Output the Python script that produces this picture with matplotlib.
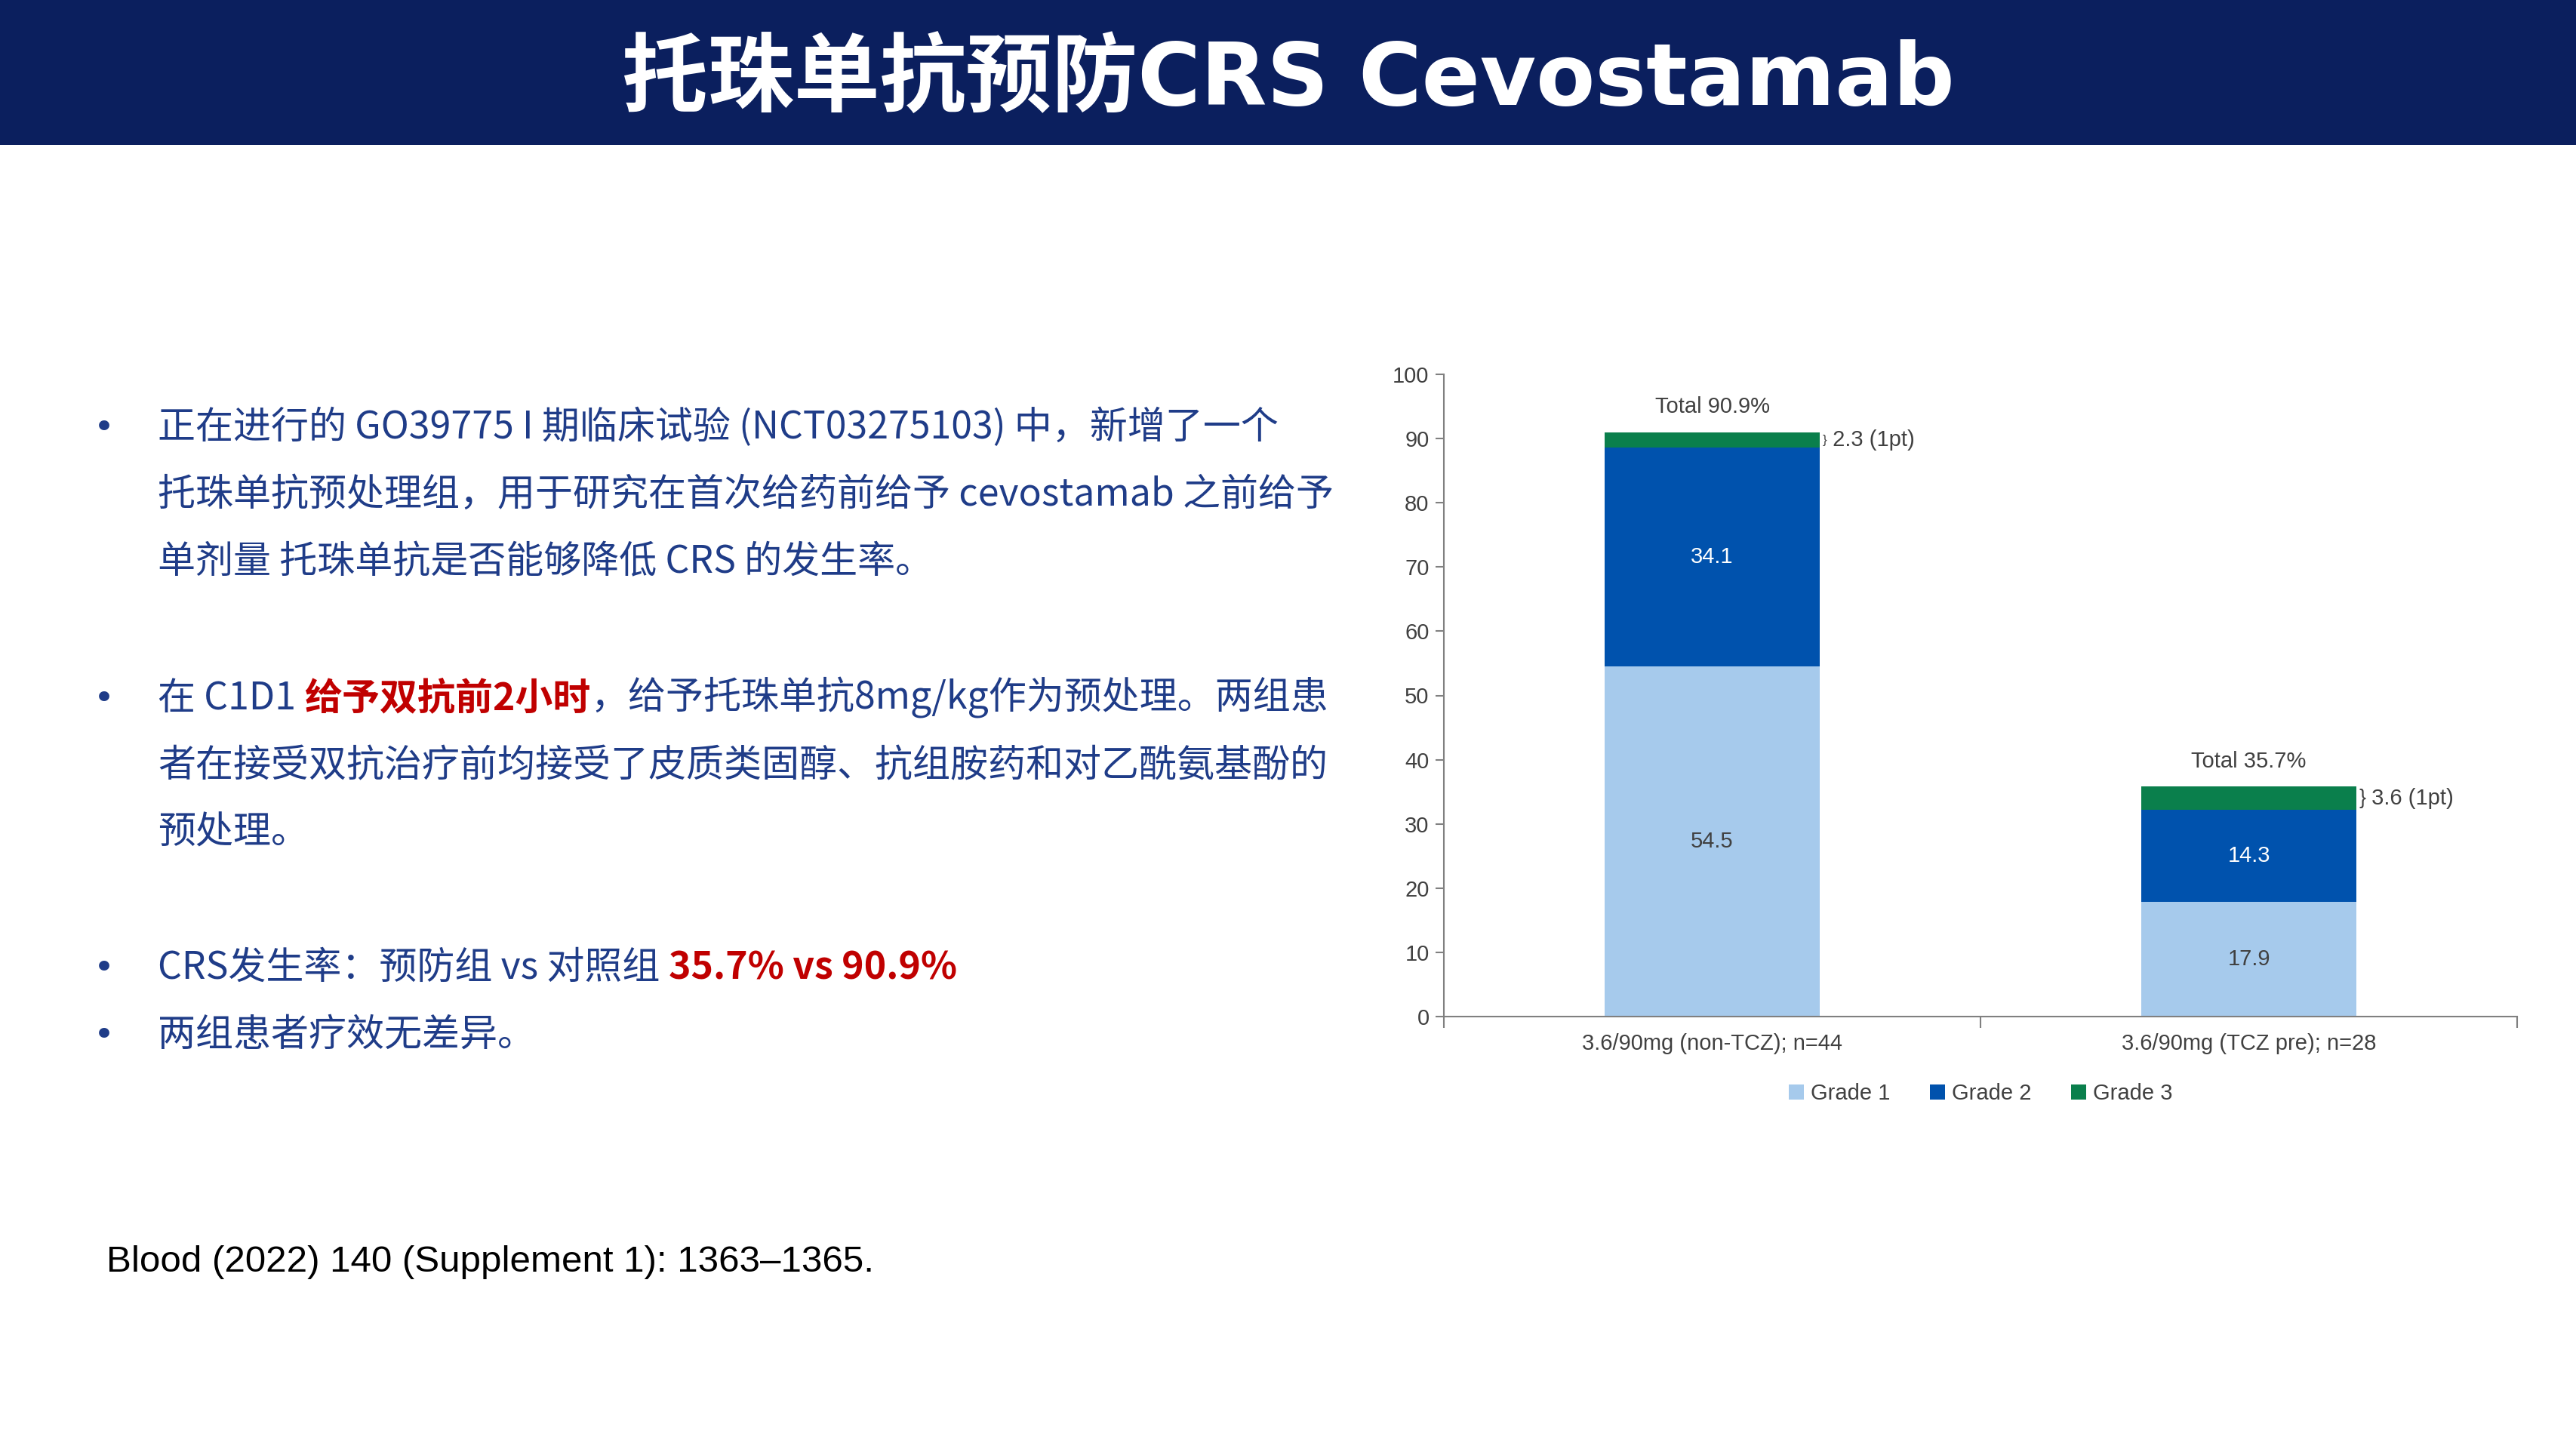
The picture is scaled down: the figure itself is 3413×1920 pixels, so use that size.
import numpy as np
from matplotlib import pyplot as plt
from matplotlib.patches import Rectangle

# ---- data ----
groups = ['3.6/90mg (non-TCZ); n=44', '3.6/90mg (TCZ pre); n=28']
grade1 = [54.5, 17.9]
grade2 = [34.1, 14.3]
grade3 = [2.3, 3.6]
totals = [90.9, 35.7]
grade3_notes = ['2.3 (1pt)', '3.6 (1pt)']
grade_names = ['Grade 1', 'Grade 2', 'Grade 3']
y_ticks = list(range(0, 101, 10))

title = '托珠单抗预防CRS Cevostamab'
bullet_lines = [
    [('正在进行的 GO39775 I 期临床试验 (NCT03275103) 中，新增了一个', 'n')],
    [('托珠单抗预处理组，用于研究在首次给药前给予 cevostamab 之前给予', 'n')],
    [('单剂量 托珠单抗是否能够降低 CRS 的发生率。', 'n')],
    [('在 C1D1 ', 'n'), ('给予双抗前2小时', 'r'), ('，给予托珠单抗8mg/kg作为预处理。两组患', 'n')],
    [('者在接受双抗治疗前均接受了皮质类固醇、抗组胺药和对乙酰氨基酚的', 'n')],
    [('预处理。', 'n')],
    [('CRS发生率：预防组 vs 对照组 ', 'n'), ('35.7% vs 90.9%', 'r')],
    [('两组患者疗效无差异。', 'n')],
]
bullet_starts = [0, 3, 6, 7]
citation = 'Blood (2022) 140 (Supplement 1): 1363–1365.'

W, H = 3413, 1920
NAVY = '#0B1F5E'
TEXT_BLUE = '#1F3C88'
RED = '#C00000'
COLORS = ['#A6CAEC', '#0052AD', '#0A7F4C']
CJK = ['Noto Sans CJK SC', 'DejaVu Sans']
GREY_TXT = '#404040'

fig = plt.figure(figsize=(W / 100, H / 100), dpi=100)
fig.patch.set_facecolor('white')

# overlay for slide furniture
tax = fig.add_axes([0, 0, 1, 1])
tax.set_xlim(0, W)
tax.set_ylim(H, 0)
tax.axis('off')

tax.add_patch(Rectangle((0, 0), W, 192, color=NAVY, lw=0))
tax.text(W / 2, 108, title, color='white', fontsize=82, fontweight='bold',
         family=['DejaVu Sans', 'Noto Sans CJK SC'], ha='center', va='center')

# bullet text
line_y = [564, 653, 742, 923, 1012, 1101, 1280, 1369]
for i, (y, runs) in enumerate(zip(line_y, bullet_lines)):
    base = y + 17
    if i in bullet_starts:
        tax.text(124, base, '•', color=TEXT_BLUE, fontsize=34, family='DejaVu Sans',
                 ha='left', va='baseline')
    prev = None
    for s, kind in runs:
        kw = dict(color=RED if kind == 'r' else TEXT_BLUE, fontsize=36, family=CJK,
                  fontweight='bold' if kind == 'r' else 'normal', va='baseline', ha='left')
        if prev is None:
            prev = tax.text(209, base, s, **kw)
        else:
            prev = tax.annotate(s, xy=(1, base), xycoords=(prev, 'data'), **kw)

tax.text(141, 1685, citation, color='black', fontsize=35.5, family='Liberation Sans',
         ha='left', va='baseline')

# ---- stacked bar chart ----
ax = fig.add_axes([1913 / W, 1 - 1347 / H, (3335 - 1913) / W, (1347 - 496) / H])
x = np.arange(len(groups))
width = 0.4
bottom = np.zeros(len(groups))
for vals, color, name in zip([grade1, grade2, grade3], COLORS, grade_names):
    ax.bar(x, vals, width, bottom=bottom, color=color, label=name, lw=0)
    bottom += np.array(vals)

FS = 21
for i in range(len(groups)):
    ax.text(x[i], grade1[i] / 2, f'{grade1[i]}', ha='center', va='center',
            fontsize=FS, color=GREY_TXT, family='Liberation Sans')
    ax.text(x[i], grade1[i] + grade2[i] / 2, f'{grade2[i]}', ha='center', va='center',
            fontsize=FS, color='white', family='Liberation Sans')
    top = grade1[i] + grade2[i] + grade3[i]
    ax.text(x[i], totals[i] + 2.4, f'Total {totals[i]}%', ha='center', va='bottom',
            fontsize=FS, color=GREY_TXT, family='Liberation Sans')
    mid = top - grade3[i] / 2
    brace = grade3[i] * 8.51 / 1.15 * 0.72
    bt = ax.text(x[i] + width / 2 + 0.005, mid, '}', ha='left', va='center',
                 fontsize=brace, color=GREY_TXT, family='Liberation Sans')
    ax.annotate(' ' + grade3_notes[i], xy=(1, mid), xycoords=(bt, 'data'),
                ha='left', va='center', fontsize=FS, color=GREY_TXT,
                family='Liberation Sans')

ax.set_xlim(-0.5, 1.5)
ax.set_ylim(0, 100)
ax.set_yticks(y_ticks)
ax.set_xticks([-0.5, 0.5, 1.5])
ax.set_xticklabels([])
ax.set_xticks(x, minor=True)
ax.set_xticklabels(groups, minor=True)
ax.tick_params(axis='x', which='major', length=11, width=1.5, color='#808080')
ax.tick_params(axis='x', which='minor', length=0, pad=16, labelsize=FS, labelcolor=GREY_TXT)
ax.tick_params(axis='y', length=8, width=1.5, color='#808080', labelsize=FS,
               labelcolor=GREY_TXT, pad=6)
for lab in ax.get_xticklabels(minor=True) + ax.get_yticklabels():
    lab.set_family('Liberation Sans')
for side in ['top', 'right']:
    ax.spines[side].set_visible(False)
for side in ['left', 'bottom']:
    ax.spines[side].set_color('#808080')
    ax.spines[side].set_linewidth(1.5)

leg = ax.legend(loc='center', bbox_to_anchor=(0.5, -0.12), ncol=3, frameon=False,
                handlelength=0.7, handleheight=0.7, handletextpad=0.3, columnspacing=1.8,
                prop={'family': 'Liberation Sans', 'size': FS})
for t in leg.get_texts():
    t.set_color(GREY_TXT)

fig.savefig('out.png', dpi=100)
